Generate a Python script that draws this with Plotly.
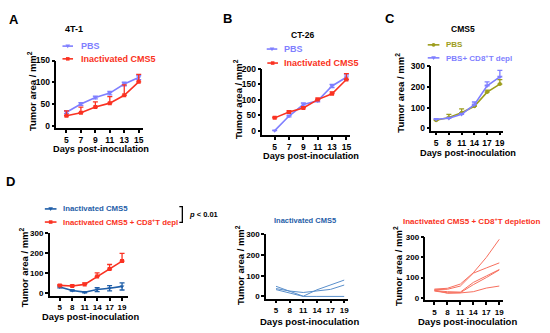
import plotly.graph_objects as go

# ---------------- data ----------------
days_A = ["5", "7", "9", "11", "13", "15"]
pbs_A = [31, 50, 65, 75, 96, 111]
pbs_A_err = [3, 3, 3, 4, 4, 5]
cms5_A = [23, 30, 43, 52, 70, 101]
cms5_A_err = [11, 13, 12, 15, 24, 17]

days_B = ["5", "7", "9", "11", "13", "15"]
pbs_B = [0, 47, 84, 96, 144, 172]
pbs_B_err = [0, 3, 5, 3, 5, 8]
cms5_B = [41, 60, 73, 100, 119, 165]
cms5_B_err = [2, 4, 4, 5, 6, 19]

days_C = ["5", "8", "11", "14", "17", "19"]
pbs_C = [38, 52, 75, 106, 175, 214]
pbs_C_err = [3, 15, 19, 6, 10, 22]
cd8_C = [43, 48, 67, 114, 206, 249]
cd8_C_err = [3, 4, 5, 13, 19, 32]

days_D = ["5", "8", "11", "14", "17", "19"]
cms5_D = [31, 13, 5, 18, 25, 34]
cms5_D_err = [4, 3, 3, 10, 13, 18]
cd8_D = [39, 36, 44, 84, 121, 161]
cd8_D_err = [4, 4, 8, 18, 23, 39]

# individual mice
cms5_mice = [
    [49, 25, 1, 32, 55, 79],
    [38, 26, 19, 25, 34, 55],
    [33, 15, 0, 0, 0, 0],
]
cd8_mice = [
    [43, 47, 68, 124, 200, 290],
    [40, 42, 58, 122, 148, 173],
    [36, 30, 28, 76, 108, 140],
    [33, 25, 25, 65, 100, 138],
    [38, 22, 24, 30, 48, 58],
]

# ---------------- style ----------------
W, H = 550, 333
FONT = "Liberation Sans, Arial, sans-serif"
LAV = "#7f7fff"
RED = "#fa3222"
OLIVE = "#9d9d1c"
BLUE = "#1f5ea8"
LBLUE = "#5a8fcb"
LRED = "#f7705f"


def px(x):
    return x / W


def py(y):
    return 1 - y / H


fig = go.Figure()

# panel geometry (pixels): x-domain, y-domain(top,bottom), x-range, y-range, yticks
panels = [
    dict(n=1, xd=(56.7, 144), yd=(56.7, 126), xr=(-0.69, 5.33), yr=(-6, 150), yt=[0, 50, 100, 150]),
    dict(n=2, xd=(263.3, 351.7), yd=(65, 132.7), xr=(-0.86, 5.28), yr=(-14, 200), yt=[0, 50, 100, 150, 200]),
    dict(n=3, xd=(433, 505), yd=(62.7, 128.3), xr=(-0.37, 5.26), yr=(-12, 300), yt=[0, 100, 200, 300]),
    dict(n=4, xd=(50, 128), yd=(233.3, 297), xr=(-0.8, 5.44), yr=(-13, 300), yt=[0, 100, 200, 300]),
    dict(n=5, xd=(267, 349), yd=(234.3, 300), xr=(-0.73, 5.26), yr=(-11, 300), yt=[0, 100, 200, 300]),
    dict(n=6, xd=(427, 505), yd=(237.3, 301.5), xr=(-0.69, 5.3), yr=(-12, 300), yt=[0, 100, 200, 300]),
]

tick_sizes = {1: 8.5, 2: 8.5, 3: 8.5, 4: 8, 5: 8, 6: 8}
for p in panels:
    n = p["n"]
    sfx = "" if n == 1 else str(n)
    common = dict(
        showline=True, linecolor="black", linewidth=1.5,
        ticks="outside", ticklen=3, tickwidth=1.5, tickcolor="black",
        showgrid=False, zeroline=False, fixedrange=True,
        tickfont=dict(family=FONT, size=tick_sizes[n], color="black", weight="bold"),
    )
    fig.layout["xaxis" + sfx] = dict(
        common, domain=[px(p["xd"][0]), px(p["xd"][1])], range=list(p["xr"]),
        type="category", anchor="y" + sfx, ticklabelstandoff=0,
    )
    fig.layout["yaxis" + sfx] = dict(
        common, domain=[py(p["yd"][1]), py(p["yd"][0])], range=list(p["yr"]),
        tickvals=p["yt"], anchor="x" + sfx,
    )


def up_err(err, color):
    return dict(type="data", array=err, arrayminus=[0] * len(err), symmetric=False,
                color=color, thickness=1.3, width=2.5)


def sym_err(err, color):
    return dict(type="data", array=err, color=color, thickness=1.3, width=2.5)


def series(x, y, err, name, color, symbol, axn, upper=True, msize=4.5):
    sfx = "" if axn == 1 else str(axn)
    fig.add_trace(go.Scatter(
        x=x, y=y, name=name, mode="lines+markers",
        line=dict(color=color, width=1.6),
        marker=dict(color=color, size=msize, symbol=symbol),
        error_y=up_err(err, color) if upper else sym_err(err, color),
        xaxis="x" + sfx, yaxis="y" + sfx, showlegend=False,
    ))


series(days_A, pbs_A, pbs_A_err, "PBS", LAV, "triangle-down", 1, upper=False)
series(days_A, cms5_A, cms5_A_err, "Inactivated CMS5", RED, "square", 1, msize=4)
series(days_B, pbs_B, pbs_B_err, "PBS", LAV, "triangle-down", 2, upper=False)
series(days_B, cms5_B, cms5_B_err, "Inactivated CMS5", RED, "square", 2, msize=4)
series(days_C, pbs_C, pbs_C_err, "PBS", OLIVE, "circle", 3, msize=4)
series(days_C, cd8_C, cd8_C_err, "PBS+ CD8+T depl", LAV, "triangle-down", 3)
series(days_D, cms5_D, cms5_D_err, "Inactivated CMS5", BLUE, "triangle-down", 4, upper=False, msize=4)
series(days_D, cd8_D, cd8_D_err, "Inactivated CMS5 + CD8+T depl", RED, "square", 4, msize=4)

for m in cms5_mice:
    fig.add_trace(go.Scatter(x=days_D, y=m, mode="lines", line=dict(color=LBLUE, width=1),
                             xaxis="x5", yaxis="y5", showlegend=False))
for m in cd8_mice:
    fig.add_trace(go.Scatter(x=days_D, y=m, mode="lines", line=dict(color=LRED, width=1),
                             xaxis="x6", yaxis="y6", showlegend=False))

ann = []
shapes = []


def text(s, x, y, size, color="black", angle=0, bold=True, xanchor="center"):
    ann.append(dict(
        text=("<b>%s</b>" % s) if bold else s, x=px(x), y=py(y), xref="paper", yref="paper",
        showarrow=False, xanchor=xanchor, yanchor="middle", textangle=angle,
        font=dict(family=FONT, size=size, color=color),
    ))


# legend entries: label, glyph line start/end x, text x, center y, colour, symbol, size
legend_entries = [
    ("PBS", 62.7, 73.3, 79, 42, LAV, "tri", 9),
    ("Inactivated CMS5", 62.7, 73.3, 79, 55, RED, "sq", 9),
    ("PBS", 267.7, 278.3, 282.7, 45, LAV, "tri", 9),
    ("Inactivated CMS5", 268.3, 279, 283.3, 59.3, RED, "sq", 9),
    ("PBS", 429.3, 441, 446, 40.7, OLIVE, "circ", 8),
    ("PBS+ CD8<sup>+</sup>T depl", 429.3, 441, 446, 54, LAV, "tri", 8),
    ("Inactivated CMS5", 45, 56.7, 61, 208.3, BLUE, "tri", 7.8),
    ("Inactivated CMS5 + CD8<sup>+</sup>T depl", 45, 56.7, 61, 221.7, RED, "sq", 7.8),
]
for label, x0, x1, tx, cy, col, sym, fs in legend_entries:
    text(label, tx, cy, fs, color=col, xanchor="left")
    shapes.append(dict(type="line", xref="paper", yref="paper",
                       x0=px(x0), x1=px(x1), y0=py(cy), y1=py(cy),
                       line=dict(color=col, width=1.6)))
    cx = (x0 + x1) / 2
    if sym == "sq":
        shapes.append(dict(type="rect", xref="paper", yref="paper",
                           x0=px(cx - 1.8), x1=px(cx + 1.8), y0=py(cy + 1.8), y1=py(cy - 1.8),
                           fillcolor=col, line=dict(width=0)))
    elif sym == "circ":
        shapes.append(dict(type="circle", xref="paper", yref="paper",
                           x0=px(cx - 1.9), x1=px(cx + 1.9), y0=py(cy + 1.9), y1=py(cy - 1.9),
                           fillcolor=col, line=dict(width=0)))
    else:
        shapes.append(dict(type="path", xref="paper", yref="paper",
                           path="M %f,%f L %f,%f L %f,%f Z" % (
                               px(cx - 2.3), py(cy - 1.7), px(cx + 2.3), py(cy - 1.7), px(cx), py(cy + 2.2)),
                           fillcolor=col, line=dict(width=0)))

# panel letters
text("A", 14, 15, 13)
text("B", 228, 14, 13)
text("C", 391, 14, 13)
text("D", 11, 180, 13)

# titles
text("4T-1", 74, 25, 9)
text("CT-26", 304, 30.7, 8.5)
text("CMS5", 465, 25, 8.5)
text("Inactivated CMS5", 306, 220, 7.5, color=BLUE)
text("Inactivated CMS5 + CD8<sup>+</sup>T depletion", 473, 221, 8, color=RED)

# axis titles
YT = "Tumor area / mm<sup>2</sup>"
XT = "Days post-inoculation"
for (x, y, s) in [(32, 88, 9.5), (239, 96, 9.5), (402, 90, 9.5), (24, 268, 9.5), (241.5, 266, 9.5), (400, 267, 9.5)]:
    text(YT, x, y, s, angle=-90)
for (x, y, s) in [(101.7, 147, 9.2), (312, 154.5, 9.2), (470, 151.5, 9.2), (90.5, 318.5, 9.3), (311, 323.3, 9.5), (469, 323.3, 9.5)]:
    text(XT, x, y, s)

# significance
text("<i>p</i> &lt; 0.01", 188, 214, 7.5, xanchor="left")
shapes.append(dict(
    type="path", xref="paper", yref="paper",
    path="M %f,%f L %f,%f L %f,%f L %f,%f" % (
        px(180), py(206), px(183), py(206), px(183), py(222), px(180), py(222)),
    line=dict(color="black", width=1.3),
))

fig.update_layout(
    annotations=ann,
    shapes=shapes,
    showlegend=False,
    width=W, height=H,
    margin=dict(l=0, r=0, t=0, b=0),
    paper_bgcolor="white", plot_bgcolor="white",
    font=dict(family=FONT),
)

fig.write_html(
    "out.html",
    config={"displayModeBar": False},
    post_script="document.body.style.margin='0';document.body.style.padding='0';",
)
